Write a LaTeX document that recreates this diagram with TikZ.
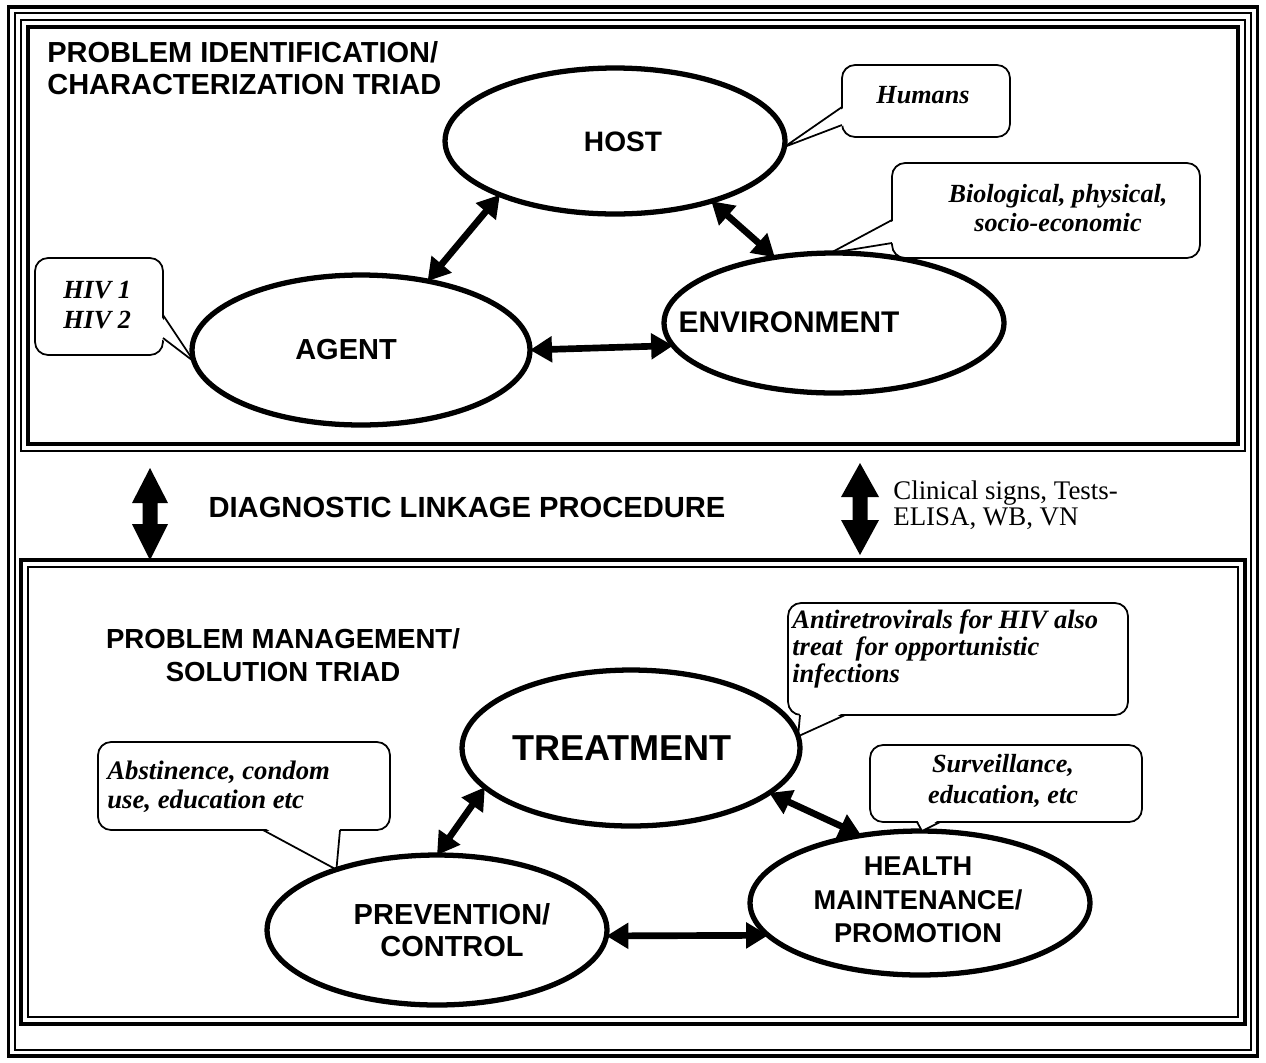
\documentclass[tikz,border=0pt]{standalone}
\usepackage{fontspec}
\setmainfont{Liberation Serif}
\setsansfont{Liberation Sans}
\usetikzlibrary{arrows.meta,shapes.geometric,calc}
\begin{document}
\begin{tikzpicture}[x=0.02cm,y=-0.02cm,
  ell/.style={draw, ellipse, line width=3pt, inner sep=0pt, outer sep=0pt},
  lbl/.style={font=\fontsize{16}{18.5}\selectfont\sffamily\bfseries, align=center, inner sep=0pt},
  bigl/.style={font=\fontsize{20.5}{24}\selectfont\sffamily\bfseries, inner sep=0pt},
  cbox/.style={draw, fill=white, line width=1pt, rectangle, rounded corners=0.26cm, inner sep=0pt, outer sep=0pt},
  ctext/.style={font=\fontsize{14.9}{17}\selectfont\bfseries\itshape, align=center, inner sep=0pt},
  tailline/.style={line width=1pt, line join=round},
  dbl/.style={{Triangle[length=0.44cm,width=0.5cm]}-{Triangle[length=0.44cm,width=0.5cm]}, line width=3.8pt},
  frameA/.style={line width=2.2pt},
  frameB/.style={line width=1.3pt},
]
\useasboundingbox (0,0) rectangle (1266,1062);
% outer frame
\draw[frameA] (8.5,7) rectangle (1257.5,1056);
\draw[frameB] (15,13) rectangle (1251,1050);
% top and bottom panels
\draw[frameB] (21,20) rectangle (1245,451);
\draw[frameA] (28,27) rectangle (1238,444);
\draw[frameA] (21,560) rectangle (1245,1024);
\draw[frameB] (28,567) rectangle (1238,1017);

% titles
\node[lbl, align=left, anchor=west, font=\fontsize{16.5}{18.5}\selectfont\sffamily\bfseries] (t1) at (47,68) {PROBLEM IDENTIFICATION/\\CHARACTERIZATION TRIAD};
\node[lbl, font=\fontsize{15.7}{19}\selectfont\sffamily\bfseries] (t2) at (283,655) {PROBLEM MANAGEMENT/\\SOLUTION TRIAD};

% ellipses
\node[ell, minimum width=6.8cm, minimum height=2.92cm] (host) at (615,141) {};
\node[ell, minimum width=6.76cm, minimum height=3.0cm] (agent) at (361,350) {};
\node[ell, minimum width=6.8cm, minimum height=2.8cm] (env) at (834,323) {};
\node[ell, minimum width=6.76cm, minimum height=3.12cm] (treat) at (631,748) {};
\node[ell, minimum width=6.8cm, minimum height=3.0cm] (prev) at (437,930) {};
\node[ell, minimum width=6.8cm, minimum height=2.88cm] (health) at (920,903) {};

\node[lbl] (hostL) at (623,142) {HOST};
\node[lbl, font=\fontsize{16.5}{18.5}\selectfont\sffamily\bfseries] (agentL) at (346,350) {AGENT};
\node[lbl, font=\fontsize{17}{18.5}\selectfont\sffamily\bfseries] (envL) at (789,322) {ENVIRONMENT};
\node[bigl] (treatL) at (622,748) {TREATMENT};
\node[lbl, font=\fontsize{16.5}{18.5}\selectfont\sffamily\bfseries] (prevL) at (452,930) {PREVENTION/\\CONTROL};
\node[lbl, font=\fontsize{15.5}{19}\selectfont\sffamily\bfseries] (healthL) at (918,900) {HEALTH\\MAINTENANCE/\\PROMOTION};

% connectors
\draw[dbl] (host.205) -- (agent.46);
\draw[dbl] (host.328) -- (env.132);
\draw[dbl] (agent.0) -- (env.188);
\draw[dbl] (treat.195) -- (prev.90);
\draw[dbl] (treat.342) -- (health.131);
\draw[dbl] (prev.358) -- (health.192);

% diagnostic linkage
\fill (150,468) -- (168,503) -- (157.5,503) -- (157.5,524) -- (168,524) -- (150,560)
      -- (132,524) -- (142.5,524) -- (142.5,503) -- (132,503) -- cycle;
\fill (860,463) -- (879,497) -- (867.5,497) -- (867.5,520) -- (879,520) -- (860,555)
      -- (841,520) -- (852.5,520) -- (852.5,497) -- (841,497) -- cycle;
\node[lbl, font=\fontsize{16.6}{18.5}\selectfont\sffamily\bfseries] (diag) at (467,507) {DIAGNOSTIC LINKAGE PROCEDURE};
\node[font=\fontsize{15.3}{14.8}\selectfont, align=left, anchor=west, inner sep=0pt] (clin) at (893,505) {Clinical signs, Tests-\\ELISA, WB, VN};

% callout: Humans
\node[cbox, minimum width=3.36cm, minimum height=1.44cm] (humB) at (926,101) {};
\fill[white] (845,107) -- ($(845,107)!0.8!(host.358)$) -- ($(845,125)!0.8!(host.358)$) -- (845,125) -- cycle;
\draw[tailline] (842,107) -- (host.358) -- (842,125);
\node[ctext] (humT) at (923,95) {Humans};

% callout: Biological
\node[cbox, minimum width=6.16cm, minimum height=1.9cm] (bioB) at (1046,210.5) {};
\fill[white] (895,220) -- ($(895,220)!0.8!(env.93)$) -- ($(895,243)!0.8!(env.93)$) -- (895,243) -- cycle;
\draw[tailline] (892,220) -- (env.93) -- (892,243);
\node[ctext] (bioT) at (1058,208) {Biological, physical,\\socio-economic};

% callout: HIV
\node[cbox, minimum width=2.56cm, minimum height=1.94cm] (hivB) at (99,306.5) {};
\fill[white] (160,315) -- ($(160,315)!0.8!(agent.184)$) -- ($(160,338)!0.8!(agent.184)$) -- (160,338) -- cycle;
\draw[tailline] (163,315) -- (agent.184) -- (163,338);
\node[ctext, align=left, anchor=west] (hivT) at (63,305) {HIV 1\\HIV 2};

% callout: Antiretrovirals
\node[cbox, minimum width=6.8cm, minimum height=2.24cm] (antiB) at (958,659) {};
\fill[white] (800,712) -- ($(800,712)!0.8!(treat.4)$) -- ($(845,712)!0.8!(treat.4)$) -- (845,712) -- cycle;
\draw[tailline] (800,715) -- (treat.4) -- (845,715);
\node[ctext, align=left, anchor=west, font=\fontsize{15.1}{15.6}\selectfont\bfseries\itshape] (antiT) at (792,649) {Antiretrovirals for HIV also\\treat\ \ for opportunistic\\infections};

% callout: Abstinence
\node[cbox, minimum width=5.84cm, minimum height=1.76cm] (absB) at (244,786) {};
\fill[white] (263,827) -- ($(263,827)!0.8!(prev.149)$) -- ($(340,827)!0.8!(prev.149)$) -- (340,827) -- cycle;
\draw[tailline] (263,830) -- (prev.149) -- (340,830);
\node[ctext, align=left, anchor=west, font=\fontsize{15.2}{16.4}\selectfont\bfseries\itshape] (absT) at (107,787) {Abstinence, condom\\use, education etc};

% callout: Surveillance
\node[cbox, minimum width=5.44cm, minimum height=1.54cm] (survB) at (1006,783.5) {};
\coordinate (survtip) at (922,831);
\fill[white] (917,819) -- (survtip) -- (940,819) -- cycle;
\draw[tailline] (917,822) -- (survtip) -- (940,822);
\node[ctext, font=\fontsize{14.9}{18}\selectfont\bfseries\itshape] (survT) at (1003,781) {Surveillance,\\education, etc};
\end{tikzpicture}
\end{document}
